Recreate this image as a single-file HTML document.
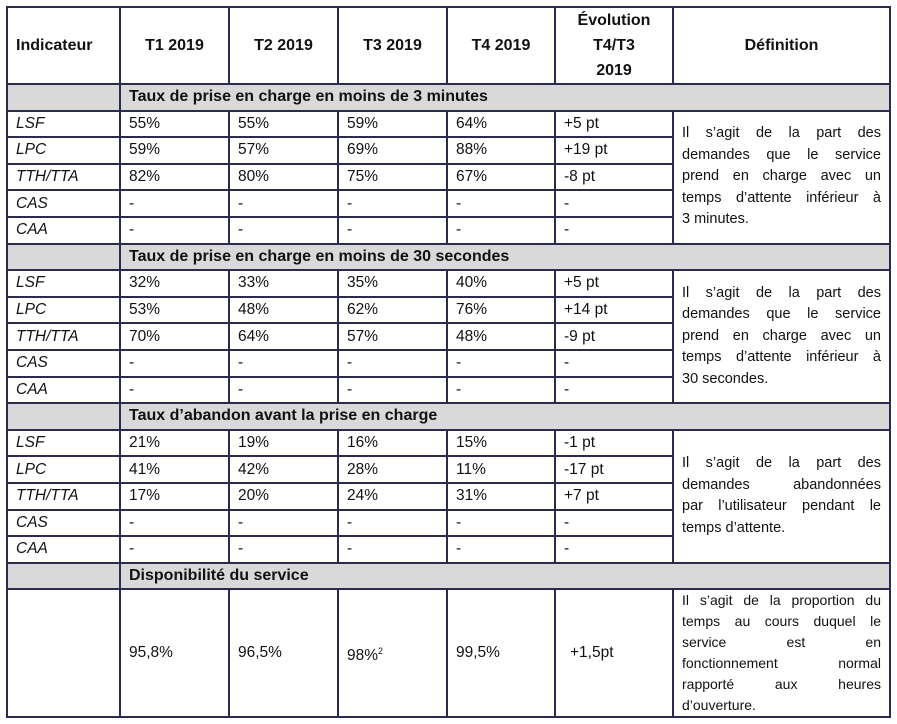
<!DOCTYPE html>
<html><head><meta charset="utf-8"><style>
body{margin:0;background:#fff;width:897px;height:724px;overflow:hidden}
table{position:absolute;left:6px;top:6px;border-collapse:collapse;table-layout:fixed;font-family:"Liberation Sans",sans-serif;font-size:15.5px;color:#111}
td{border:2px solid #2b2b4e;padding:0 0 0 8px;height:24.6px;line-height:18px;white-space:nowrap;overflow:hidden}
tr.h td{height:75px;font-weight:bold;text-align:center;padding:0;font-size:16px;line-height:25px}
tr.h td.first{text-align:left;padding-left:8px}
tr.s td{background:#d9d9d9;font-weight:bold;font-size:16px;height:24.6px}
td.i{font-style:italic}
td.def{white-space:nowrap;font-size:14.5px;line-height:21.5px;padding:0 8px;vertical-align:middle}
td.def div{text-align:justify;text-align-last:justify}
td.def div.e{text-align-last:left}
tr.last td{height:126px}
tr.last td.def{font-size:14px;line-height:21px;letter-spacing:0}
sup{font-size:9px}
</style></head><body>
<table>
<colgroup><col style="width:113px"><col style="width:109px"><col style="width:109px"><col style="width:109px"><col style="width:108px"><col style="width:118px"><col style="width:217px"></colgroup>
<tr class="h"><td class="first">Indicateur</td><td>T1 2019</td><td>T2 2019</td><td>T3 2019</td><td>T4 2019</td><td>Évolution<br>T4/T3<br>2019</td><td>Définition</td></tr>
<tr class="s"><td></td><td colspan="6">Taux de prise en charge en moins de 3 minutes</td></tr>
<tr><td class="i">LSF</td><td>55%</td><td>55%</td><td>59%</td><td>64%</td><td>+5 pt</td><td class="def" rowspan="5"><div>Il s’agit de la part des</div><div>demandes que le service</div><div>prend en charge avec un</div><div>temps d’attente inférieur à</div><div class="e">3 minutes.</div></td></tr>
<tr><td class="i">LPC</td><td>59%</td><td>57%</td><td>69%</td><td>88%</td><td>+19 pt</td></tr>
<tr><td class="i">TTH/TTA</td><td>82%</td><td>80%</td><td>75%</td><td>67%</td><td>-8 pt</td></tr>
<tr><td class="i">CAS</td><td>-</td><td>-</td><td>-</td><td>-</td><td>-</td></tr>
<tr><td class="i">CAA</td><td>-</td><td>-</td><td>-</td><td>-</td><td>-</td></tr>
<tr class="s"><td></td><td colspan="6">Taux de prise en charge en moins de 30 secondes</td></tr>
<tr><td class="i">LSF</td><td>32%</td><td>33%</td><td>35%</td><td>40%</td><td>+5 pt</td><td class="def" rowspan="5"><div>Il s’agit de la part des</div><div>demandes que le service</div><div>prend en charge avec un</div><div>temps d’attente inférieur à</div><div class="e">30 secondes.</div></td></tr>
<tr><td class="i">LPC</td><td>53%</td><td>48%</td><td>62%</td><td>76%</td><td>+14 pt</td></tr>
<tr><td class="i">TTH/TTA</td><td>70%</td><td>64%</td><td>57%</td><td>48%</td><td>-9 pt</td></tr>
<tr><td class="i">CAS</td><td>-</td><td>-</td><td>-</td><td>-</td><td>-</td></tr>
<tr><td class="i">CAA</td><td>-</td><td>-</td><td>-</td><td>-</td><td>-</td></tr>
<tr class="s"><td></td><td colspan="6">Taux d’abandon avant la prise en charge</td></tr>
<tr><td class="i">LSF</td><td>21%</td><td>19%</td><td>16%</td><td>15%</td><td>-1 pt</td><td class="def" rowspan="5"><div>Il s’agit de la part des</div><div>demandes abandonnées</div><div>par l’utilisateur pendant le</div><div class="e">temps d’attente.</div></td></tr>
<tr><td class="i">LPC</td><td>41%</td><td>42%</td><td>28%</td><td>11%</td><td>-17 pt</td></tr>
<tr><td class="i">TTH/TTA</td><td>17%</td><td>20%</td><td>24%</td><td>31%</td><td>+7 pt</td></tr>
<tr><td class="i">CAS</td><td>-</td><td>-</td><td>-</td><td>-</td><td>-</td></tr>
<tr><td class="i">CAA</td><td>-</td><td>-</td><td>-</td><td>-</td><td>-</td></tr>
<tr class="s"><td></td><td colspan="6">Disponibilité du service</td></tr>
<tr class="last"><td></td><td>95,8%</td><td>96,5%</td><td>98%<sup>2</sup></td><td>99,5%</td><td style="padding-left:14px">+1,5pt</td><td class="def"><div>Il s’agit de la proportion du</div><div>temps au cours duquel le</div><div>service est en</div><div>fonctionnement normal</div><div>rapporté aux heures</div><div class="e">d’ouverture.</div></td></tr>
</table>
</body></html>
